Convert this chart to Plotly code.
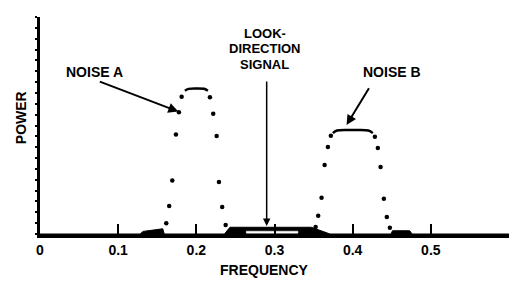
import plotly.graph_objects as go

# ---- data ----
noise_a_freq = [0.1615, 0.1653, 0.1692, 0.1739, 0.1777, 0.1812,
                0.2174, 0.2216, 0.2260, 0.2289, 0.2331, 0.2375]
noise_a_power = [0.049, 0.129, 0.246, 0.459, 0.561, 0.633,
                 0.630, 0.554, 0.452, 0.240, 0.124, 0.041]
noise_a_top_freq = [0.1854, 0.190, 0.200, 0.210, 0.2148]
noise_a_top_power = [0.660, 0.669, 0.671, 0.669, 0.660]

noise_b_freq = [0.3526, 0.3559, 0.3602, 0.3641, 0.3683, 0.3721,
                0.4284, 0.4322, 0.4357, 0.4399, 0.4437, 0.4476]
noise_b_power = [0.032, 0.084, 0.167, 0.318, 0.401, 0.453,
                 0.448, 0.396, 0.309, 0.163, 0.078, 0.029]
noise_b_top_freq = [0.3747, 0.380, 0.400, 0.420, 0.4258]
noise_b_top_power = [0.465, 0.477, 0.479, 0.477, 0.465]

floor_freq = [0.0, 0.128, 0.132, 0.150, 0.157, 0.159, 0.236, 0.243, 0.347, 0.371,
              0.449, 0.451, 0.473, 0.476, 0.6]
floor_power = [0.0, 0.0, 0.012, 0.022, 0.024, 0.0, 0.0, 0.031, 0.031, 0.0,
               0.0, 0.015, 0.015, 0.0, 0.0]

signal_band = [0.264, 0.330]
signal_band_power = [0.004, 0.013]
look_freq = 0.290

x_ticks = [0, 0.1, 0.2, 0.3, 0.4, 0.5]
x_tick_labels = ["0", "0.1", "0.2", "0.3", "0.4", "0.5"]

FONT = "Liberation Sans"
BLACK = "#000000"

fig = go.Figure()

# low-level floor
fig.add_trace(go.Scatter(x=floor_freq, y=floor_power, mode="lines",
                         line=dict(color=BLACK, width=1), fill="tozeroy",
                         fillcolor=BLACK, hoverinfo="skip"))
# look-direction signal band (hollow bar)
fig.add_trace(go.Scatter(
    x=[signal_band[0], signal_band[1], signal_band[1], signal_band[0], signal_band[0]],
    y=[signal_band_power[0], signal_band_power[0], signal_band_power[1], signal_band_power[1], signal_band_power[0]],
    mode="lines", line=dict(color="white", width=0.5), fill="toself", fillcolor="white",
    hoverinfo="skip"))

# noise dots
fig.add_trace(go.Scatter(x=noise_a_freq, y=noise_a_power, mode="markers",
                         marker=dict(color=BLACK, size=4.5)))
fig.add_trace(go.Scatter(x=noise_b_freq, y=noise_b_power, mode="markers",
                         marker=dict(color=BLACK, size=4.5)))
# flat tops
fig.add_trace(go.Scatter(x=noise_a_top_freq, y=noise_a_top_power, mode="lines",
                         line=dict(color=BLACK, width=2.5, shape="spline")))
fig.add_trace(go.Scatter(x=noise_b_top_freq, y=noise_b_top_power, mode="lines",
                         line=dict(color=BLACK, width=2.5, shape="spline")))

lbl = dict(family=FONT, size=14, color=BLACK, weight="bold")
lbl13 = dict(family=FONT, size=13, color=BLACK, weight="bold")

annotations = [
    # Noise A
    dict(x=0.0699, y=0.748, text="NOISE A", showarrow=False, font=lbl),
    dict(x=0.1769, y=0.564, ax=0.0746, ay=0.705, axref="x", ayref="y",
         showarrow=True, arrowhead=2, arrowsize=1, arrowwidth=2, arrowcolor=BLACK, text=""),
    # Noise B
    dict(x=0.450, y=0.745, text="NOISE B", showarrow=False, font=lbl),
    dict(x=0.3922, y=0.502, ax=0.422, ay=0.679, axref="x", ayref="y",
         showarrow=True, arrowhead=2, arrowsize=1, arrowwidth=2, arrowcolor=BLACK, text=""),
    # Look-direction signal
    dict(x=0.2877, y=0.926, text="LOOK-", showarrow=False, font=lbl13),
    dict(x=0.2877, y=0.853, text="DIRECTION", showarrow=False, font=lbl13),
    dict(x=0.2877, y=0.779, text="SIGNAL", showarrow=False, font=lbl13),
    dict(x=look_freq, y=0.037, ax=look_freq, ay=0.710, axref="x", ayref="y",
         showarrow=True, arrowhead=2, arrowsize=1, arrowwidth=1.5, arrowcolor=BLACK, text=""),
    # axis titles (paper coordinates)
    dict(x=0.4797, y=-0.166, xref="paper", yref="paper", xanchor="center", yanchor="middle",
         text="FREQUENCY", showarrow=False, font=lbl),
    dict(x=-0.039, y=0.537, xref="paper", yref="paper", xanchor="center", yanchor="middle",
         text="POWER", showarrow=False, font=lbl, textangle=-90),
]

fig.update_layout(
    width=517, height=281,
    margin=dict(l=40, r=8, t=17, b=47),
    paper_bgcolor="white", plot_bgcolor="white",
    showlegend=False,
    annotations=annotations,
    xaxis=dict(range=[0, 0.6], showgrid=False, zeroline=False,
               showline=True, linecolor=BLACK, linewidth=4,
               tickvals=x_ticks, ticktext=x_tick_labels,
               ticks="inside", ticklen=10, tickwidth=2, tickcolor=BLACK,
               tickfont=dict(family=FONT, size=14, color=BLACK, weight="bold")),
    yaxis=dict(range=[0, 1], showgrid=False, zeroline=False,
               showline=True, linecolor=BLACK, linewidth=3,
               dtick=0.05, ticks="outside", ticklen=2, tickwidth=2, tickcolor=BLACK,
               showticklabels=False),
)

fig.write_html("out.html", config={"displayModeBar": False},
               post_script="document.body.style.margin='0';")
